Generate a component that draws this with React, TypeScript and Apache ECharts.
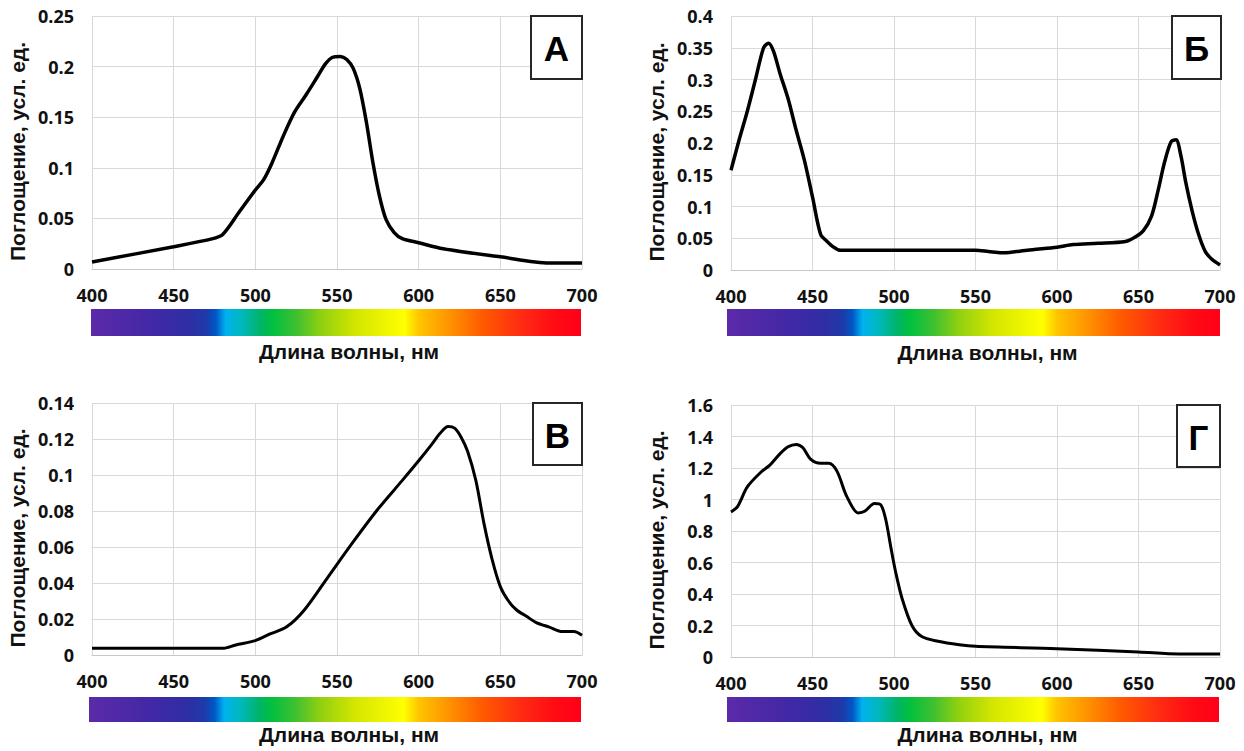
import React, { useEffect, useRef } from "react";
import * as echarts from "echarts";

// ---- data ----
const xTicks = [400, 450, 500, 550, 600, 650, 700];

const wlA = [400, 450, 474, 480, 490, 500, 505, 510, 517, 524, 531, 538, 543, 547, 552, 556, 560, 564, 568, 572, 576, 580, 585, 590, 600, 615, 650, 680, 700];
const absA = [0.007, 0.022, 0.030, 0.034, 0.056, 0.078, 0.088, 0.104, 0.131, 0.155, 0.172, 0.190, 0.203, 0.209, 0.210, 0.207, 0.198, 0.178, 0.145, 0.105, 0.072, 0.049, 0.036, 0.030, 0.026, 0.020, 0.012, 0.006, 0.006];

const wlB = [400, 405, 410, 415, 420, 423, 426, 430, 435, 440, 445, 450, 455, 459, 463, 467, 480, 500, 520, 550, 558, 566, 575, 585, 600, 610, 625, 642, 648, 653, 658, 662, 666, 670, 673, 676, 679, 683, 687, 691, 695, 700];
const absB = [0.157, 0.205, 0.25, 0.30, 0.350, 0.357, 0.345, 0.31, 0.27, 0.22, 0.173, 0.115, 0.056, 0.045, 0.036, 0.031, 0.031, 0.031, 0.031, 0.031, 0.029, 0.027, 0.029, 0.032, 0.036, 0.040, 0.042, 0.045, 0.052, 0.062, 0.085, 0.125, 0.170, 0.202, 0.205, 0.180, 0.138, 0.092, 0.055, 0.029, 0.017, 0.008];

const wlC = [400, 480, 488, 500, 509, 519, 530, 545, 560, 575, 590, 601, 608, 613, 618, 622, 626, 630, 635, 640, 645, 650, 655, 660, 666, 672, 680, 688, 695, 700];
const absC = [0.0037, 0.0037, 0.0056, 0.008, 0.0117, 0.0155, 0.025, 0.044, 0.063, 0.081, 0.097, 0.109, 0.117, 0.123, 0.127, 0.126, 0.121, 0.113, 0.097, 0.073, 0.053, 0.038, 0.030, 0.025, 0.0215, 0.018, 0.0155, 0.013, 0.013, 0.011];

const wlD = [400, 404, 410, 418, 424, 430, 435, 440, 444, 449, 455, 460, 465, 471, 478, 482, 488, 492, 495, 498, 501, 505, 511, 517, 527, 540, 550, 600, 650, 675, 700];
const absD = [0.92, 0.955, 1.08, 1.17, 1.22, 1.29, 1.335, 1.35, 1.33, 1.255, 1.23, 1.23, 1.18, 1.02, 0.915, 0.925, 0.975, 0.965, 0.87, 0.70, 0.54, 0.37, 0.20, 0.13, 0.10, 0.078, 0.068, 0.053, 0.032, 0.019, 0.019];

const yMaxes = [0.25, 0.4, 0.14, 1.6];
const yIntervals = [0.05, 0.05, 0.02, 0.2];
const panelLetters = ["А", "Б", "В", "Г"];
const yTitle = "Поглощение, усл. ед.";
const xTitle = "Длина волны, нм";

const spectrumStops = [
  [0, "#5b2aa9"],
  [0.12, "#4328a6"],
  [0.2, "#2e2ea3"],
  [0.235, "#1e3aaa"],
  [0.255, "#0057c6"],
  [0.275, "#00b2f0"],
  [0.31, "#00b8b8"],
  [0.345, "#00b46a"],
  [0.37, "#00c040"],
  [0.42, "#40c030"],
  [0.47, "#90d010"],
  [0.54, "#d4e600"],
  [0.64, "#ffff00"],
  [0.67, "#ffc400"],
  [0.73, "#ff9400"],
  [0.8, "#ff5a00"],
  [0.88, "#ff2a12"],
  [0.95, "#ff0a14"],
  [1, "#ff0018"],
];

// ---- layout ----
const grids = [
  { left: 92, top: 16, width: 490, height: 253 },
  { left: 731, top: 16, width: 489, height: 254 },
  { left: 92, top: 403, width: 490, height: 252 },
  { left: 731, top: 405, width: 489, height: 252 },
];
const bars = [
  { x: 91, y: 309, w: 490, h: 27 },
  { x: 727, y: 309, w: 493, h: 27 },
  { x: 89, y: 697, w: 492, h: 25 },
  { x: 727, y: 697, w: 492, h: 25 },
];
const boxes = [
  { x: 531, y: 16, w: 51, h: 63 },
  { x: 1172, y: 16, w: 49, h: 63 },
  { x: 533, y: 403, w: 49, h: 62 },
  { x: 1177, y: 405, w: 43, h: 62 },
];
const lineWidths = [3.5, 3.5, 3, 3];
const xNameGaps = [72, 72, 69, 67];

const tickFont = { fontFamily: "'Open Sans', sans-serif", fontWeight: "bold" as const, fontSize: 18, color: "#111" };
const titleFont = { fontFamily: "'Liberation Sans', Arial, sans-serif", fontWeight: "bold" as const, fontSize: 21, color: "#111" };

export default function App() {
  const ref = useRef<HTMLDivElement>(null);
  useEffect(() => {
    if (!ref.current) return;
    const chart = echarts.init(ref.current, null, { renderer: "svg" });
    const datasets = [
      [wlA, absA],
      [wlB, absB],
      [wlC, absC],
      [wlD, absD],
    ];
    const fmt = (v: number) => String(+v.toFixed(3));
    const graphics: any[] = [];
    bars.forEach((b) => {
      graphics.push({
        type: "rect",
        z: 100,
        shape: { x: b.x, y: b.y, width: b.w, height: b.h },
        style: {
          fill: new echarts.graphic.LinearGradient(
            0, 0, 1, 0,
            spectrumStops.map(([o, c]) => ({ offset: o as number, color: c as string }))
          ),
        },
      });
    });
    boxes.forEach((b, i) => {
      graphics.push({
        type: "rect",
        z: 100,
        shape: { x: b.x, y: b.y, width: b.w, height: b.h },
        style: { fill: "#ffffff", stroke: "#262626", lineWidth: 2 },
      });
      graphics.push({
        type: "text",
        z: 101,
        style: {
          text: panelLetters[i],
          x: b.x + b.w / 2,
          y: b.y + b.h / 2 + 1,
          align: "center",
          verticalAlign: "middle",
          fontFamily: "'Liberation Sans', Arial, sans-serif",
          fontWeight: "bold",
          fontSize: 35,
          fill: "#000",
        },
      });
    });

    chart.setOption({
      animation: false,
      backgroundColor: "#ffffff",
      grid: grids.map((g) => ({ ...g, containLabel: false })),
      xAxis: grids.map((_, i) => ({
        type: "value",
        gridIndex: i,
        min: xTicks[0],
        max: xTicks[xTicks.length - 1],
        interval: 50,
        name: xTitle,
        nameLocation: "middle",
        nameGap: xNameGaps[i],
        nameTextStyle: { ...titleFont, padding: [0, 0, 0, 24] },
        axisLine: { show: true, lineStyle: { color: "#c8c8c8", width: 1 } },
        axisTick: { show: false },
        axisLabel: { ...tickFont, margin: 17, formatter: (v: number) => String(v) },
        splitLine: { show: true, lineStyle: { color: "#d9d9d9", width: 1 } },
      })),
      yAxis: grids.map((_, i) => ({
        type: "value",
        gridIndex: i,
        min: 0,
        max: yMaxes[i],
        interval: yIntervals[i],
        name: yTitle,
        nameLocation: "middle",
        nameGap: 64,
        nameTextStyle: { ...titleFont, padding: [0, 18, 0, 0] },
        axisLine: { show: false },
        axisTick: { show: false },
        axisLabel: { ...tickFont, margin: 18, formatter: fmt },
        splitLine: { show: true, lineStyle: { color: "#d9d9d9", width: 1 } },
      })),
      series: datasets.map(([xs, ys], i) => ({
        type: "line",
        xAxisIndex: i,
        yAxisIndex: i,
        data: xs.map((x, k) => [x, ys[k]]),
        smooth: 0.3,
        showSymbol: false,
        lineStyle: { color: "#000", width: lineWidths[i] },
        z: 5,
      })),
      graphic: graphics,
    });
    return () => chart.dispose();
  }, []);
  return (
    <div
      ref={ref}
      style={{ position: "absolute", left: 0, top: 0, width: 1244, height: 751, background: "#fff" }}
    />
  );
}
